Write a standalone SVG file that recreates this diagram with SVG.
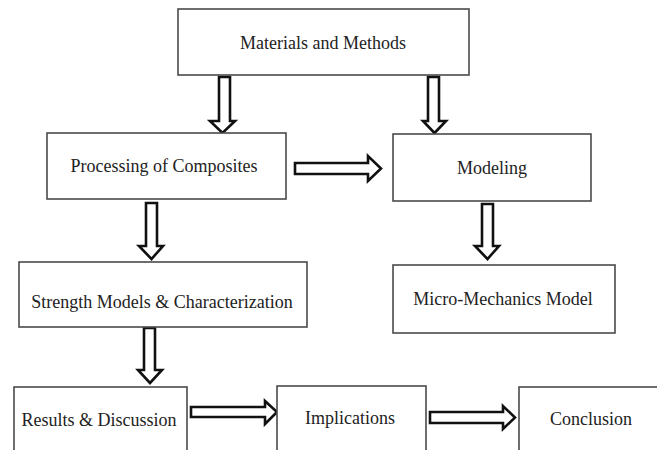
<svg xmlns="http://www.w3.org/2000/svg" width="657" height="450" viewBox="0 0 657 450">
<style>
.box{fill:#fff;stroke:#4a4a4a;stroke-width:1.6}
.lbl{font-family:"Liberation Serif","Times New Roman",serif;font-size:18px;fill:#222;text-anchor:middle}
.arr{fill:#fff;stroke:#111;stroke-width:2.6;stroke-linejoin:miter}
</style>
<rect width="657" height="450" fill="#fff"/>
<g id="connectors">
<polygon class="arr" points="219,77 230,77 230,121 235,121 222.5,133 210,121 219,121"/>
<polygon class="arr" points="428,77 439,77 439,121 446,121 434.5,133 423,121 428,121"/>
<polygon class="arr" points="295,163 368,163 368,156 381,168.5 368,181 368,174 295,174"/>
<polygon class="arr" points="482,204 493,204 493,246 499,246 487.5,259 475,246 482,246"/>
<polygon class="arr" points="146,203 157,203 157,246 163,246 151.5,259 139,246 146,246"/>
<polygon class="arr" points="144,328 155,328 155,370 162,370 150,383 138,370 144,370"/>
<polygon class="arr" points="191,407 265,407 265,401 277,412 265,424 265,417 191,417"/>
<polygon class="arr" points="430,412 503,412 503,406 515,417.5 503,429 503,423 430,423"/>
</g>
<g id="materials"><rect class="box" x="178" y="9" width="291" height="66"/><text class="lbl" x="323" y="49">Materials and Methods</text></g>
<g id="processing"><rect class="box" x="47" y="133" width="239" height="66"/><text class="lbl" x="164" y="172">Processing of Composites</text></g>
<g id="modeling"><rect class="box" x="393" y="134" width="198" height="67"/><text class="lbl" x="492" y="174">Modeling</text></g>
<g id="micro"><rect class="box" x="393" y="265" width="222" height="68"/><text class="lbl" x="503" y="305">Micro-Mechanics Model</text></g>
<g id="strength"><rect class="box" x="19" y="262" width="288" height="65"/><text class="lbl" x="162" y="308">Strength Models &amp; Characterization</text></g>
<g id="results"><rect class="box" x="14" y="387" width="173" height="70"/><text class="lbl" x="99" y="426">Results &amp; Discussion</text></g>
<g id="implications"><rect class="box" x="277" y="386" width="149" height="70"/><text class="lbl" x="350" y="424">Implications</text></g>
<g id="conclusion"><rect class="box" x="519" y="387" width="150" height="70"/><text class="lbl" x="591" y="425">Conclusion</text></g>
</svg>
